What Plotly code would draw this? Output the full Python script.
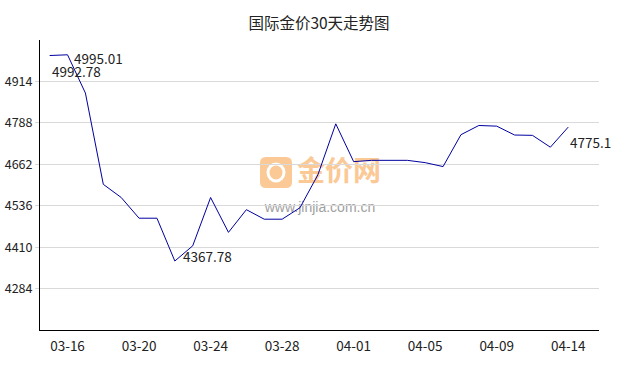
import plotly.graph_objects as go

title = "国际金价30天走势图"
dates = ["03-15", "03-16", "03-17", "03-18", "03-19", "03-20", "03-21", "03-22",
         "03-23", "03-24", "03-25", "03-26", "03-27", "03-28", "03-29", "03-30",
         "03-31", "04-01", "04-02", "04-03", "04-04", "04-05", "04-06", "04-07",
         "04-08", "04-09", "04-10", "04-11", "04-13", "04-14"]
prices = [4992.78, 4995.01, 4878.6, 4601, 4561, 4498, 4498, 4367.78,
          4414, 4561, 4455, 4524, 4495, 4495, 4530, 4630,
          4785, 4670, 4674, 4674, 4674, 4667, 4655, 4752,
          4780, 4778, 4751, 4750, 4714, 4775.1]
x_ticks = ["03-16", "03-20", "03-24", "03-28", "04-01", "04-05", "04-09", "04-14"]
y_ticks = [4284, 4410, 4536, 4662, 4788, 4914]
y_range = [4158, 5040]

FONT = "Noto Sans CJK SC"
LINE = "#0000a0"

fig = go.Figure()
fig.add_trace(go.Scatter(
    x=dates, y=prices, mode="lines",
    line=dict(color=LINE, width=1), hoverinfo="skip", showlegend=False,
))

# value labels: first, max, min, last
i_max = prices.index(max(prices))
i_min = prices.index(min(prices))
labels = [
    (0, 0, -15),
    (i_max, 4, -3),
    (i_min, 6, 5),
    (len(prices) - 1, 0, -15),
]
for idx, xs, ys in labels:
    v = prices[idx]
    txt = f"{v:.2f}".rstrip("0").rstrip(".") if idx == len(prices) - 1 else f"{v:.2f}"
    fig.add_annotation(
        x=dates[idx], y=v, text=txt, showarrow=False,
        xanchor="left", yanchor="middle", xshift=xs, yshift=ys,
        font=dict(family=FONT, size=13.5, color="#222222"),
    )

# watermark (below the data)
def px_to_paper(px, py):
    return (px - 40) / 559, 1 - (py - 40) / 290

x0, y0 = px_to_paper(260, 157)
x1, y1 = px_to_paper(292, 188)
rx, ry = 6 / 559, 6 / 290
path = (f"M {x0+rx},{y0} L {x1-rx},{y0} Q {x1},{y0} {x1},{y0-ry} "
        f"L {x1},{y1+ry} Q {x1},{y1} {x1-rx},{y1} L {x0+rx},{y1} "
        f"Q {x0},{y1} {x0},{y1+ry} L {x0},{y0-ry} Q {x0},{y0} {x0+rx},{y0} Z")
fig.add_shape(type="path", path=path, xref="paper", yref="paper",
              fillcolor="#fbc995", line=dict(width=0), layer="below")
cx0, cy0 = px_to_paper(268, 164)
cx1, cy1 = px_to_paper(284, 181)
fig.add_shape(type="circle", xref="paper", yref="paper",
              x0=cx0, y0=cy1, x1=cx1, y1=cy0,
              line=dict(color="white", width=3), layer="below")
tx0, ty0 = px_to_paper(296, 156)
tx1, ty1 = px_to_paper(382, 189)
fig.add_shape(type="rect", xref="paper", yref="paper",
              x0=tx0, y0=ty1, x1=tx1, y1=ty0, line=dict(width=0),
              layer="below",
              label=dict(text="<b>金价网</b>", textposition="middle center",
                         font=dict(family=FONT, size=28, color="#fbc995")))
wx0, wy0 = px_to_paper(258, 198)
wx1, wy1 = px_to_paper(382, 214)
fig.add_shape(type="rect", xref="paper", yref="paper",
              x0=wx0, y0=wy1, x1=wx1, y1=wy0, line=dict(width=0),
              layer="below",
              label=dict(text="www.jinjia.com.cn", textposition="middle center",
                         font=dict(family="Liberation Sans", size=14, color="#a0a0a0")))

fig.update_layout(
    width=638, height=370,
    margin=dict(l=40, r=39, t=40, b=40, autoexpand=False),
    paper_bgcolor="white", plot_bgcolor="white",
    title=dict(text=title, x=0.5, xanchor="center", y=1 - 24 / 370, yanchor="middle",
               font=dict(family=FONT, size=15.5, color="#222222")),
    showlegend=False,
)
fig.update_xaxes(
    type="category", range=[-0.54, 30.72], automargin=False,
    tickmode="array", tickvals=x_ticks, ticktext=x_ticks,
    showgrid=False, showline=True, linecolor="black", linewidth=1,
    ticks="outside", ticklen=4, tickcolor="rgba(0,0,0,0)",
    tickfont=dict(family=FONT, size=13.5, color="#222222"),
    zeroline=False,
)
fig.update_yaxes(
    range=y_range, tickmode="array", tickvals=y_ticks, automargin=False,
    showgrid=True, gridcolor="#d9d9d9", gridwidth=1,
    showline=True, linecolor="black", linewidth=1,
    ticks="outside", ticklen=4, tickcolor="#d9d9d9",
    tickfont=dict(family=FONT, size=12.5, color="#222222"),
    zeroline=False,
)

fig.write_html("out.html")
